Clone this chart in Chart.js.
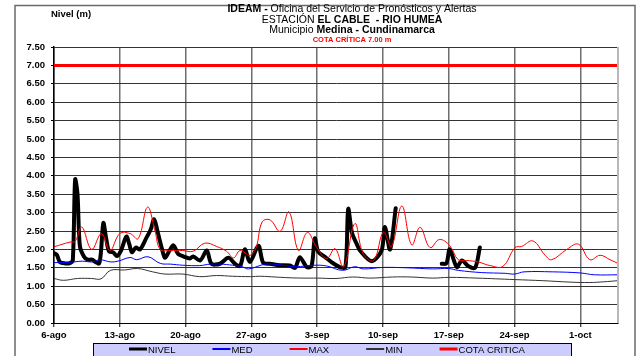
<!DOCTYPE html>
<html lang="es">
<head>
<meta charset="UTF-8">
<title>Nivel EL CABLE - RIO HUMEA</title>
<script src="https://cdn.jsdelivr.net/npm/chart.js"></script>
<style>
    html, body { margin: 0; padding: 0; background: #fff; }
    #contenedor { position: relative; width: 638px; height: 356px; }
</style>
</head>
<body>
<div id="contenedor"><canvas id="grafNivel" width="638" height="356"></canvas></div>
<script>
// eje x en días contados desde el 6-ago
const etiquetasFecha = ['6-ago', '13-ago', '20-ago', '27-ago', '3-sep', '10-sep', '17-sep', '24-sep', '1-oct'];
const diasTotales = 60;
const marcasY = { min: 0, max: 7.5, paso: 0.5 };

// nivel observado [día, m]; null = sin dato
const nivel = [
    [0,1.9],[0.3,1.85],[0.65,1.65],[1.2,1.62],[1.7,1.63],[2.0,1.7],[2.25,3.9],[2.5,3.5],[2.75,2.1],
    [3.2,1.8],[3.6,1.72],[4.05,1.72],[4.45,1.65],[4.8,1.62],[5.0,1.95],[5.25,2.72],[5.55,2.3],
    [5.85,1.95],[6.3,1.92],[6.7,1.82],[7.1,1.95],[7.7,2.35],[8.0,2.15],[8.3,1.92],[8.7,2.05],
    [9.15,2.0],[9.8,2.3],[10.3,2.55],[10.65,2.82],[11.05,2.45],[11.5,2.0],[11.8,1.77],[12.25,1.95],
    [12.7,2.11],[13.2,1.88],[13.75,1.81],[14.45,1.75],[14.8,1.81],[15.55,1.7],[16.25,1.97],
    [16.75,1.61],[17.65,1.61],[18.55,1.77],[19.25,1.61],[19.8,1.55],[20.3,2.0],[20.85,1.66],
    [21.75,2.1],[22.25,1.64],[23.0,1.61],[24.05,1.57],[25.1,1.56],[25.65,1.5],[26.15,1.79],
    [26.9,1.52],[27.4,1.55],[27.75,2.3],[28.1,1.94],[28.85,1.79],[29.55,1.65],[30.4,1.52],
    [31.0,1.52],[31.3,3.1],[31.7,2.45],[32.2,2.15],[32.55,1.97],[33.8,1.68],[34.85,1.97],
    [35.2,2.61],[35.75,2.0],[36.35,3.12],[38.8,null],[41.25,1.61],[41.75,1.62],[42.1,2.0],
    [42.85,1.52],[43.4,1.7],[44.1,1.54],[44.8,1.5],[45.3,2.05]
];

// históricos: medio, máximo y mínimo
const medio = [
    [0,1.64],[1.7,1.65],[3.0,1.68],[4.1,1.66],[4.9,1.72],[6.0,1.66],[6.8,1.68],[8.1,1.78],[8.8,1.72],
    [10.0,1.8],[11.3,1.62],[12.4,1.6],[13.7,1.57],[15.5,1.56],[16.6,1.6],[17.7,1.6],[19.0,1.57],
    [20.0,1.53],[20.7,1.47],[22.5,1.6],[24.0,1.58],[25.7,1.53],[27.6,1.57],[29.0,1.55],[30.7,1.43],
    [32.0,1.53],[32.9,1.47],[35.0,1.51],[37.5,1.5],[40.3,1.47],[42.0,1.48],[43.0,1.43],[45.5,1.37],
    [48.0,1.35],[49.0,1.33],[50.0,1.39],[53.0,1.39],[56.0,1.36],[57.5,1.31],[60,1.31]
];
const maximo = [
    [0,2.07],[1.7,2.2],[2.25,2.22],[2.95,2.61],[4.0,2.0],[5.05,2.43],[5.95,1.97],[7.0,2.43],[8.1,2.43],
    [8.95,2.29],[9.95,3.15],[10.75,2.5],[11.3,2.0],[12.35,1.97],[13.7,1.97],[14.8,1.95],[16.05,2.17],
    [17.3,2.08],[18.35,1.95],[19.1,1.77],[19.8,1.97],[20.85,1.84],[21.5,2.05],[22.15,2.75],[23.0,2.8],
    [24.05,2.49],[25.0,3.02],[26.0,1.97],[26.95,2.46],[27.95,2.05],[29.0,1.75],[29.9,2.02],[30.8,1.52],
    [32.0,2.7],[32.9,1.88],[34.0,1.7],[35.05,2.47],[35.9,2.08],[37.0,3.18],[38.05,2.12],[38.95,2.6],
    [40.0,2.05],[41.0,2.27],[42.1,2.1],[43.0,1.72],[43.9,1.7],[45.1,1.66],[46.4,1.56],[47.75,1.54],
    [49.05,2.05],[49.75,2.08],[50.95,2.23],[52.25,1.84],[52.95,1.72],[54.55,2.0],[55.8,2.14],
    [57.0,1.72],[58.1,1.84],[59.15,1.72],[60,1.62]
];
const minimo = [
    [0,1.21],[1.0,1.16],[2.5,1.21],[4.0,1.21],[5.0,1.2],[6.0,1.43],[7.5,1.44],[8.9,1.48],[10.5,1.39],
    [11.8,1.33],[13.7,1.33],[15.5,1.26],[17.3,1.29],[19.0,1.27],[20.9,1.26],[22.0,1.27],[23.5,1.25],
    [25.0,1.23],[26.5,1.22],[28.0,1.22],[30.0,1.21],[31.8,1.25],[33.6,1.22],[36.0,1.25],[38.0,1.25],
    [40.3,1.22],[42.0,1.24],[45.0,1.22],[49.0,1.18],[52.0,1.15],[55.0,1.11],[57.0,1.1],[58.5,1.12],
    [60,1.15]
];
const cotaCritica = 7.0;

const puntos = serie => serie.map(p => ({ x: p[0], y: p[1] }));
const FUENTE = '"Liberation Sans", Arial, sans-serif';

// encabezado: partes de cada línea [texto, negrita]
const encabezado = [
    { y: 9.5, size: 10.5, color: '#000', partes: [['IDEAM -', true], [' Oficina del Servicio de Pronósticos y Alertas', false]] },
    { y: 20, size: 10.5, color: '#000', partes: [['ESTACIÓN ', false], ['EL CABLE  - RIO HUMEA', true]] },
    { y: 30.5, size: 10.5, color: '#000', partes: [['Municipio ', false], ['Medina - Cundinamarca', true]] },
    { y: 40, size: 7.5, color: '#ff0000', partes: [['COTA CRÍTICA 7.00 m', true]] }
];

function lineaMixta(ctx, linea, cx) {
    let total = 0;
    linea.partes.forEach(p => {
        ctx.font = (p[1] ? 'bold ' : '') + linea.size + 'px ' + FUENTE;
        total += ctx.measureText(p[0]).width;
    });
    let x = cx - total / 2;
    ctx.fillStyle = linea.color;
    linea.partes.forEach(p => {
        ctx.font = (p[1] ? 'bold ' : '') + linea.size + 'px ' + FUENTE;
        ctx.fillText(p[0], x, linea.y);
        x += ctx.measureText(p[0]).width;
    });
}

const marco = {
    id: 'marco',
    beforeDraw(chart) {
        const ctx = chart.ctx;
        ctx.save();
        ctx.fillStyle = '#fff';
        ctx.fillRect(0, 0, chart.width, chart.height);
        ctx.restore();
    },
    afterDraw(chart) {
        const ctx = chart.ctx;
        const area = chart.chartArea;
        ctx.save();

        // borde derecho del área
        ctx.strokeStyle = '#b8b8b8';
        ctx.lineWidth = 2;
        ctx.beginPath();
        ctx.moveTo(area.right, area.top);
        ctx.lineTo(area.right, area.bottom);
        ctx.stroke();

        // marco exterior
        ctx.strokeStyle = '#6a6a6a';
        ctx.lineWidth = 1.5;
        ctx.beginPath();
        ctx.moveTo(15, chart.height + 2);
        ctx.lineTo(15, 5.5);
        ctx.lineTo(635, 5.5);
        ctx.lineTo(635, chart.height + 2);
        ctx.stroke();

        // títulos
        ctx.textBaseline = 'middle';
        ctx.textAlign = 'left';
        encabezado.forEach(l => lineaMixta(ctx, l, 352));

        ctx.fillStyle = '#000';
        ctx.font = 'bold 9.5px ' + FUENTE;
        ctx.fillText('Nivel (m)', 51, 14);

        // leyenda
        const caja = { x: 93, y: 343, w: 478, h: 16 };
        ctx.fillStyle = '#ccccff';
        ctx.fillRect(caja.x, caja.y, caja.w, caja.h);
        ctx.strokeStyle = '#000';
        ctx.lineWidth = 1;
        ctx.strokeRect(caja.x + 0.5, caja.y + 0.5, caja.w, caja.h);

        ctx.font = '9.5px ' + FUENTE;
        let x = 129;
        const yl = caja.y + 6;
        chart.data.datasets.forEach(ds => {
            ctx.strokeStyle = ds.borderColor;
            ctx.lineWidth = Math.max(2, Math.min(ds.borderWidth, 3));
            ctx.beginPath();
            ctx.moveTo(x, yl);
            ctx.lineTo(x + 18, yl);
            ctx.stroke();
            ctx.fillStyle = '#000';
            ctx.fillText(ds.label, x + 19, yl + 1);
            x += 19 + ctx.measureText(ds.label).width + 37;
        });
        ctx.restore();
    }
};

new Chart(document.getElementById('grafNivel'), {
    type: 'line',
    data: {
        datasets: [
            { label: 'NIVEL', data: puntos(nivel), borderColor: '#000000', borderWidth: 4, tension: 0.3,
              borderCapStyle: 'round', borderJoinStyle: 'round', spanGaps: false, order: 5 },
            { label: 'MED', data: puntos(medio), borderColor: '#0000ff', borderWidth: 1, tension: 0.4, order: 4 },
            { label: 'MAX', data: puntos(maximo), borderColor: '#ff0000', borderWidth: 1, tension: 0.4, order: 3 },
            { label: 'MIN', data: puntos(minimo), borderColor: '#333333', borderWidth: 1, tension: 0.4, order: 2 },
            { label: 'COTA CRITICA', data: [{ x: 0, y: cotaCritica }, { x: diasTotales, y: cotaCritica }],
              borderColor: '#ff0000', borderWidth: 3, tension: 0, order: 1 }
        ]
    },
    options: {
        responsive: false,
        animation: false,
        devicePixelRatio: 1,
        elements: { point: { radius: 0 } },
        layout: { padding: { left: 0, right: 20, top: 47, bottom: 13 } },
        plugins: {
            legend: { display: false },
            title: { display: false },
            tooltip: { enabled: false }
        },
        scales: {
            x: {
                type: 'linear',
                min: 0,
                max: diasTotales,
                afterFit: s => { s.height = 20; },
                afterBuildTicks: s => { s.ticks = etiquetasFecha.map((_, i) => ({ value: i * 7 })); },
                ticks: {
                    autoSkip: false,
                    maxRotation: 0,
                    padding: 3,
                    color: '#000',
                    font: { family: FUENTE, size: 9.5, weight: 'bold' },
                    callback: (v, i) => etiquetasFecha[i]
                },
                grid: { color: '#6e6e6e', lineWidth: 1.5, tickLength: 4, tickColor: '#000', tickWidth: 1 },
                border: { color: '#000', width: 1 }
            },
            y: {
                min: marcasY.min,
                max: marcasY.max,
                afterFit: s => { s.width = 54; },
                ticks: {
                    stepSize: marcasY.paso,
                    padding: 6,
                    color: '#000',
                    font: { family: FUENTE, size: 9.5, weight: 'bold' },
                    callback: v => v.toFixed(2)
                },
                grid: { color: '#333', lineWidth: 1, borderDash: [2, 1.5], tickLength: 3, tickColor: '#000',
                        tickBorderDash: [] },
                border: { color: '#000', width: 1.5 }
            }
        }
    },
    plugins: [marco]
});
</script>
</body>
</html>
